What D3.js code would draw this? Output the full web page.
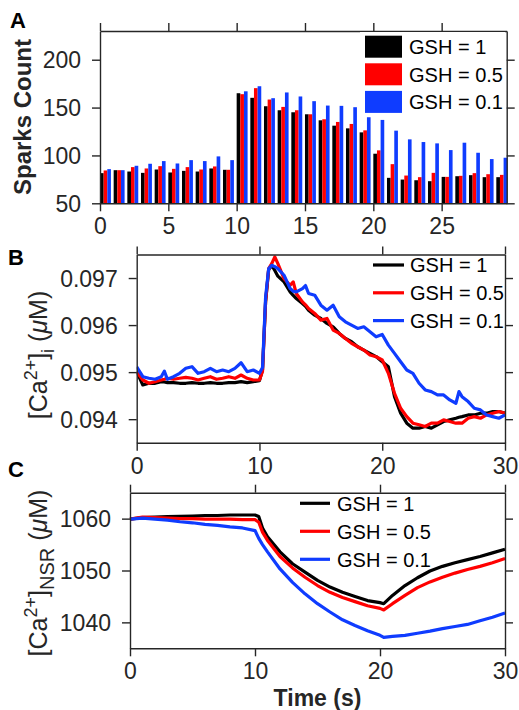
<!DOCTYPE html>
<html>
<head>
<meta charset="utf-8">
<script src="https://cdnjs.cloudflare.com/ajax/libs/d3/7.8.5/d3.min.js"></script>
<style>
  body { margin: 0; background: #fff; }
  svg { display: block; font-family: "Liberation Sans", Arial, sans-serif; }
</style>
</head>
<body>
<div id="chart"></div>
<script>
// ---- data ----
var seriesNames = ["GSH = 1", "GSH = 0.5", "GSH = 0.1"];
var seriesColors = ["#000000", "#ff0000", "#0f3cff"];

// panel A: sparks count per second (30 bins)
var sparksBlack = [81.5,84.6,83.2,81.8,85.3,82.2,83.9,83.2,86.4,85.0,165,160.2,151.4,147.2,145.1,143,136.7,131.1,128.3,124.1,101.8,76.6,74.8,74.1,73.1,77.6,78.3,79.4,77.3,77.3];
var sparksRed   = [84.3,84.6,87.8,86.4,88.8,86.0,87.8,85.3,88.5,85.0,164,170.3,158.4,150.7,147.2,143,137.8,135.0,132.9,126.2,105.3,90.9,79.0,77.3,81.8,77.6,78.7,81.5,80.4,79.7];
var sparksBlue  = [85.7,84.6,89.2,91.3,94.1,91.6,95.1,94.1,99.0,95.1,167,172.3,159.8,165.8,161.6,156.7,152.1,151.8,150.4,139.9,137.1,125.9,116.8,114.0,112.6,105.6,113.3,102.8,96.2,97.6];

// panel B: cytosolic Ca (uM)
var timeB = [0,0.5,1,1.5,2,2.25,2.5,3,3.5,4,4.5,5,5.5,6,6.5,7,7.5,8,8.5,9,9.5,10,10.25,10.5,10.75,11,11.25,11.5,12,12.5,12.75,13,13.5,13.75,14,14.5,15,15.5,16,16.5,17,17.5,18,18.5,19,19.5,20,20.5,21,21.5,22,22.5,23,23.5,24,24.5,25,25.5,26,26.25,26.5,27,27.5,28,28.5,29,29.5,30];
var caiBlack = [.095009,.094727,.094763,.094763,.094797,.094790,.094776,.094776,.094763,.094763,.094776,.094763,.094763,.094776,.094763,.094763,.094776,.094776,.094797,.094776,.094797,.094819,.09505,.09650,.09718,.09727,.09716,.09704,.096918,.096706,.09663,.096565,.096459,.09640,.096317,.096211,.09614,.096035,.095963,.095823,.095716,.095646,.095539,.095469,.095399,.09533,.095222,.095115,.094479,.094127,.093915,.093809,.093809,.093845,.093809,.09388,.09395,.093985,.09402,.09404,.094055,.09409,.09409,.094127,.094127,.094162,.094162,.094127];
var caiRed   = [.095009,.094833,.094763,.094797,.094833,.09485,.094869,.094848,.094869,.09489,.094869,.094833,.094869,.094903,.094848,.094869,.094903,.094869,.094939,.094869,.094833,.094833,.09502,.09650,.09720,.097307,.09745,.097307,.096989,.096847,.096918,.096671,.096494,.09643,.096352,.096247,.096105,.09614,.095893,.095823,.095716,.095611,.095539,.095469,.095363,.095327,.095257,.094975,.094551,.094232,.094055,.093915,.09388,.093845,.093915,.093915,.093985,.09395,.093915,.09392,.093915,.09402,.094055,.09402,.09409,.094127,.094162,.094127];
var caiBlue  = [.095115,.094903,.094869,.094848,.094903,.09502,.094848,.094903,.094975,.095081,.095115,.094975,.095009,.095081,.095009,.095045,.095009,.095081,.0952,.095009,.095045,.094975,.09510,.09660,.09720,.09727,.09724,.0972,.097059,.096776,.09672,.096706,.096776,.09684,.096671,.096635,.096423,.096317,.096423,.096175,.09607,.095999,.095928,.095963,.095858,.095751,.0958,.095574,.095399,.095222,.095045,.094975,.094763,.094621,.094586,.094515,.094515,.094409,.094339,.094586,.094479,.094374,.094232,.094197,.09409,.094055,.09402,.09409];

// panel C: NSR Ca (uM)
var timeC = [0,1,2,3,4,5,6,7,8,9,10,10.3,10.6,11,12,13,14,15,16,17,18,19,20,20.3,21,22,23,24,25,26,27,28,29,30];
var nsrBlack = [1059.9,1060.2,1060.3,1060.4,1060.45,1060.5,1060.6,1060.6,1060.7,1060.7,1060.7,1060.4,1058.2,1056.5,1053.6,1051.3,1049.7,1048.1,1046.8,1045.8,1045.0,1044.2,1043.8,1043.6,1045.2,1047.1,1048.6,1049.9,1050.8,1051.5,1052.1,1052.7,1053.4,1054.1];
var nsrRed   = [1059.9,1060.3,1060.2,1060.1,1060.0,1060.0,1059.9,1059.9,1059.9,1059.8,1059.8,1059.3,1057.4,1055.8,1052.7,1050.5,1048.7,1047.1,1045.8,1044.8,1044.0,1043.2,1042.7,1042.4,1043.6,1045.2,1046.7,1047.8,1048.7,1049.5,1050.2,1050.8,1051.5,1052.3];
var nsrBlue  = [1059.9,1060.1,1059.9,1059.7,1059.4,1059.2,1058.9,1058.7,1058.4,1058.2,1057.7,1056.2,1055.0,1053.6,1050.3,1047.7,1045.5,1043.6,1042.0,1040.5,1039.4,1038.4,1037.5,1037.1,1037.3,1037.5,1037.9,1038.3,1038.8,1039.2,1039.6,1040.3,1041.0,1041.8];

var ticksA_x = [0,5,10,15,20,25], ticksA_y = [50,100,150,200];
var ticksB_x = [0,10,20,30], ticksB_y = [0.094,0.095,0.096,0.097];
var ticksC_x = [0,10,20,30], ticksC_y = [1040,1050,1060];

// ---- drawing ----
var W = 519, H = 710;
var axisColor = "#262626";
var tickFont = 23;

var svg = d3.select("#chart").append("svg")
  .attr("width", W).attr("height", H);
svg.append("rect").attr("width", W).attr("height", H).attr("fill", "#fff");

function drawFrame(g, x, y, xt, yt, yfmt) {
  var x0 = x.range()[0], x1 = x.range()[1], y0 = y.range()[0], y1 = y.range()[1];
  // bottom
  g.append("g").attr("transform", "translate(0," + y0 + ")")
    .call(d3.axisBottom(x).tickValues(xt).tickSize(8).tickSizeOuter(0).tickFormat(d3.format("d")))
    .call(styleAxis)
    .selectAll("text").attr("y", 31).attr("dy", 0);
  // top
  g.append("g").attr("transform", "translate(0," + y1 + ")")
    .call(d3.axisTop(x).tickValues(xt).tickSize(8).tickSizeOuter(0).tickFormat(""))
    .call(styleAxis);
  // left
  g.append("g").attr("transform", "translate(" + x0 + ",0)")
    .call(d3.axisLeft(y).tickValues(yt).tickSize(8).tickSizeOuter(0).tickFormat(yfmt))
    .call(styleAxis)
    .selectAll("text").attr("x", -19).attr("dy", "0.36em");
  // right
  g.append("g").attr("transform", "translate(" + x1 + ",0)")
    .call(d3.axisRight(y).tickValues(yt).tickSize(8).tickSizeOuter(0).tickFormat(""))
    .call(styleAxis);
}

function styleAxis(sel) {
  sel.select(".domain").attr("stroke", axisColor).attr("stroke-width", 1.4);
  sel.selectAll(".tick line").attr("stroke", axisColor).attr("stroke-width", 1.4);
  sel.selectAll(".tick text").attr("fill", axisColor)
    .style("font-size", tickFont + "px").style("font-family", "Liberation Sans, Arial, sans-serif");
}

function panelLetter(txt, x, y) {
  svg.append("text").attr("x", x).attr("y", y).text(txt)
    .attr("font-weight", "bold").attr("font-size", 22).attr("fill", "#000");
}

// ===== Panel A =====
var xA = d3.scaleLinear().domain([0, 29.76]).range([100, 506.7]);
var yA = d3.scaleLinear().domain([50, 230]).range([203.3, 31]);
var gA = svg.append("g");
var groupW = xA(0.8) - xA(0);
var xSub = d3.scaleBand().domain(d3.range(3)).range([0, groupW]);
var sparkSeries = [sparksBlack, sparksRed, sparksBlue];

sparkSeries.forEach(function(vals, s) {
  gA.selectAll(".bar" + s)
    .data(vals)
    .enter().append("rect")
    .attr("x", function(d, i) { return xA(i) + xSub(s); })
    .attr("y", function(d) { return yA(d); })
    .attr("width", xSub.bandwidth())
    .attr("height", function(d) { return yA(50) - yA(d); })
    .attr("fill", seriesColors[s]);
});
drawFrame(gA, xA, yA, ticksA_x, ticksA_y, d3.format("d"));

// legend A (patches)
var legA = svg.append("g");
legA.append("rect").attr("x", 360).attr("y", 32).attr("width", 145).attr("height", 84).attr("fill", "#fff");
seriesNames.forEach(function(n, i) {
  var cy = 46.7 + i * 27.6;
  legA.append("rect").attr("x", 365).attr("y", cy - 11).attr("width", 37).attr("height", 22)
    .attr("fill", seriesColors[i]);
  legA.append("text").attr("x", 409).attr("y", cy).attr("dy", "0.36em")
    .attr("font-size", 20).attr("fill", "#000").text(n);
});

svg.append("text")
  .attr("transform", "translate(31," + 117 + ") rotate(-90)")
  .attr("text-anchor", "middle").attr("font-weight", "bold").attr("font-size", 24)
  .attr("fill", axisColor).text("Sparks Count");
panelLetter("A", 10, 28);

// ===== Panel B =====
var xB = d3.scaleLinear().domain([0, 30]).range([136.7, 505]);
var yB = d3.scaleLinear().domain([0.0935, 0.0975]).range([442.7, 254.5]);
var gB = svg.append("g");
svg.append("clipPath").attr("id", "clipB").append("rect")
  .attr("x", 136.7).attr("y", 254.5).attr("width", 505 - 136.7).attr("height", 442.7 - 254.5);
var lineB = d3.line().x(function(d, i) { return xB(timeB[i]); }).y(function(d) { return yB(d); });
[caiBlack, caiRed, caiBlue].forEach(function(vals, s) {
  gB.append("path").datum(vals).attr("d", lineB)
    .attr("fill", "none").attr("stroke", seriesColors[s]).attr("stroke-width", 3.2)
    .attr("stroke-linejoin", "round").attr("clip-path", "url(#clipB)");
});
drawFrame(gB, xB, yB, ticksB_x, ticksB_y, d3.format(".3f"));

function lineLegend(x0, x1, tx, cy0, dy) {
  var lg = svg.append("g");
  seriesNames.forEach(function(n, i) {
    var cy = cy0 + i * dy;
    lg.append("line").attr("x1", x0).attr("x2", x1).attr("y1", cy).attr("y2", cy)
      .attr("stroke", seriesColors[i]).attr("stroke-width", 3.2);
    lg.append("text").attr("x", tx).attr("y", cy).attr("dy", "0.36em")
      .attr("font-size", 20).attr("fill", "#000").text(n);
  });
}
lineLegend(373, 404, 410, 265, 27.8);

var labB = svg.append("text")
  .attr("transform", "translate(46.7," + 355 + ") rotate(-90)")
  .attr("text-anchor", "middle").attr("font-size", 25).attr("fill", axisColor);
labB.append("tspan").text("[Ca");
labB.append("tspan").attr("dy", -10).attr("font-size", 18).text("2+");
labB.append("tspan").attr("dy", 10).text("]");
labB.append("tspan").attr("dy", 7).attr("font-size", 18).text("i");
labB.append("tspan").attr("dy", -7).text(" (");
labB.append("tspan").attr("font-style", "italic").text("\u03bc");
labB.append("tspan").text("M)");
panelLetter("B", 8, 265);

// ===== Panel C =====
var xC = d3.scaleLinear().domain([0, 30]).range([130, 505]);
var yC = d3.scaleLinear().domain([1035, 1065]).range([648.3, 492.7]);
var gC = svg.append("g");
var lineC = d3.line().x(function(d, i) { return xC(timeC[i]); }).y(function(d) { return yC(d); });
[nsrBlack, nsrRed, nsrBlue].forEach(function(vals, s) {
  gC.append("path").datum(vals).attr("d", lineC)
    .attr("fill", "none").attr("stroke", seriesColors[s]).attr("stroke-width", 3.2)
    .attr("stroke-linejoin", "round");
});
drawFrame(gC, xC, yC, ticksC_x, ticksC_y, d3.format("d"));
lineLegend(300, 330, 337, 503.3, 28);

var labC = svg.append("text")
  .attr("transform", "translate(46.7," + 573 + ") rotate(-90)")
  .attr("text-anchor", "middle").attr("font-size", 25).attr("fill", axisColor);
labC.append("tspan").text("[Ca");
labC.append("tspan").attr("dy", -10).attr("font-size", 18).text("2+");
labC.append("tspan").attr("dy", 10).text("]");
labC.append("tspan").attr("dy", 7).attr("font-size", 20).text("NSR");
labC.append("tspan").attr("dy", -7).text(" (");
labC.append("tspan").attr("font-style", "italic").text("\u03bc");
labC.append("tspan").text("M)");
panelLetter("C", 8, 477);

svg.append("text").attr("x", 317.5).attr("y", 706).attr("text-anchor", "middle")
  .attr("font-weight", "bold").attr("font-size", 23).attr("fill", axisColor).text("Time (s)");
</script>
</body>
</html>
